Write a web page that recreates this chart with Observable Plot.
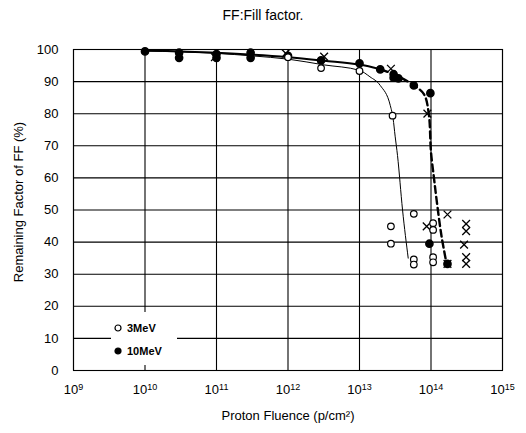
<!DOCTYPE html>
<html>
<head>
<meta charset="utf-8">
<script src="https://cdn.jsdelivr.net/npm/d3@7"></script>
<script src="https://cdn.jsdelivr.net/npm/@observablehq/plot@0.6"></script>
<style>
  body { margin: 0; background: white; font-family: "Liberation Sans", Arial, sans-serif; }
  #wrap { position: relative; width: 526px; }
  #title { height: 30px; line-height: 30px; text-align: center; font-size: 14px; color: #000; }
  #legend { position: absolute; left: 111px; top: 312px; width: 66px; height: 53px; background: white; }
</style>
</head>
<body>
<div id="wrap">
  <div id="title">FF:Fill factor.</div>
  <div id="chart"></div>
  <div id="legend"></div>
</div>
<script>
// ---- tick values ----
const xTicks = [1e9, 1e10, 1e11, 1e12, 1e13, 1e14, 1e15];
const yTicks = [0, 10, 20, 30, 40, 50, 60, 70, 80, 90, 100];

// ---- 3 MeV (open circles) ----
const mev3X = [1e12, 2.9e12, 1e13, 2.9e13, 5.75e13, 2.75e13, 2.75e13, 1.07e14, 1.07e14, 5.75e13, 5.75e13, 1.07e14, 1.07e14];
const mev3Y = [97.6, 94.2, 93.3, 79.4, 48.8, 44.9, 39.5, 45.9, 43.8, 34.6, 33.0, 35.3, 33.7];

// ---- 10 MeV (filled circles) ----
const mev10X = [1e10, 3e10, 3e10, 1e11, 1e11, 3e11, 3e11, 1e12, 2.9e12, 1e13, 1.95e13, 3e13, 3e13, 3.5e13, 5.75e13, 9.8e13, 9.5e13, 1.7e14];
const mev10Y = [99.4, 99.0, 97.4, 98.6, 97.4, 99.0, 97.4, 98.0, 96.6, 95.7, 93.8, 92.3, 91.2, 91.0, 88.8, 86.4, 39.5, 33.2];

// ---- unlabelled series (crosses) ----
const crossX = [9.5e10, 9.3e11, 3.2e12, 2.75e13, 8.9e13, 8.7e13, 1.7e14, 3.1e14, 3.1e14, 2.9e14, 3.1e14, 3.1e14, 1.7e14];
const crossY = [97.6, 98.8, 97.8, 94.0, 80.0, 44.9, 48.6, 45.7, 43.4, 39.2, 35.3, 33.2, 33.2];

// ---- fitted curves ----
const fit3X = [1e10, 1e11, 3.2e11, 1e12, 3.2e12, 1e13, 1.4e13, 1.95e13, 2.7e13, 2.95e13, 3.15e13, 3.4e13, 4e13, 4.8e13];
const fit3Y = [99.5, 98.8, 98.0, 97.0, 95.2, 93.5, 91.5, 88.8, 82.5, 78.5, 73.0, 67.0, 50.0, 35.0];

const fit10SolidX = [1e10, 1e11, 3.2e11, 1e12, 3.2e12, 1e13, 2e13];
const fit10SolidY = [99.7, 99.0, 98.4, 97.6, 96.5, 95.3, 93.8];

const fit10DashX = [2e13, 3.2e13, 5.6e13, 8e13, 9.3e13, 1e14, 1.1e14, 1.2e14, 1.4e14, 1.66e14];
const fit10DashY = [93.8, 92.0, 89.0, 86.0, 80.0, 68.0, 60.0, 53.0, 42.0, 33.0];

// ---- legend ----
const legendLabels = ["3MeV", "10MeV"];

const zip = (xs, ys) => xs.map((x, i) => ({x, y: ys[i]}));
const expOf = d => String(Math.round(Math.log10(d)));

const chart = Plot.plot({
  width: 526,
  height: 403,
  marginTop: 19,
  marginBottom: 63,
  marginLeft: 73,
  marginRight: 24,
  style: {fontFamily: "'Liberation Sans', Arial, sans-serif", fontSize: "13px", color: "black", background: "white"},
  x: {type: "log", domain: [1e9, 1e15]},
  y: {domain: [0, 100]},
  marks: [
    Plot.gridX(xTicks, {stroke: "black", strokeOpacity: 1, strokeWidth: 1.1}),
    Plot.gridY(yTicks, {stroke: "black", strokeOpacity: 1, strokeWidth: 1.1}),
    Plot.frame({stroke: "black", strokeWidth: 1.1}),
    Plot.axisX(xTicks, {tickFormat: d => "10|" + expOf(d), tickSize: 0, tickPadding: 14, label: null, fontSize: 13}),
    Plot.axisY(yTicks, {tickSize: 0, tickPadding: 15, label: null, fontSize: 13}),
    Plot.text(["Proton Fluence (p/cm²)"], {frameAnchor: "bottom", dy: 49, fontSize: 13}),
    Plot.text(["Remaining Factor of FF (%)"], {frameAnchor: "left", textAnchor: "middle", rotate: -90, dx: -55, dy: -8, fontSize: 13}),
    Plot.line(zip(fit3X, fit3Y), {x: "x", y: "y", stroke: "black", strokeWidth: 1, curve: "monotone-x"}),
    Plot.line(zip(fit10SolidX, fit10SolidY), {x: "x", y: "y", stroke: "black", strokeWidth: 2, curve: "monotone-x"}),
    Plot.line(zip(fit10DashX, fit10DashY), {x: "x", y: "y", stroke: "black", strokeWidth: 2.4, strokeDasharray: "7,4", curve: "catmull-rom"}),
    Plot.dot(zip(crossX, crossY), {x: "x", y: "y", symbol: "times", r: 3.6, stroke: "black", strokeWidth: 1.3}),
    Plot.dot(zip(mev10X, mev10Y), {x: "x", y: "y", r: 3.6, fill: "black", stroke: "black"}),
    Plot.dot(zip(mev3X, mev3Y), {x: "x", y: "y", r: 3.3, fill: "white", stroke: "black", strokeWidth: 1.2})
  ]
});
document.getElementById("chart").appendChild(chart);

// turn "10|n" tick labels into 10 with a raised exponent
d3.select(chart).selectAll("text").each(function () {
  const t = this.textContent;
  if (/^10\|\d+$/.test(t)) {
    const [base, e] = t.split("|");
    const sel = d3.select(this);
    sel.text(null);
    sel.append("tspan").text(base);
    sel.append("tspan").attr("dy", "-0.45em").attr("font-size", "9px").text(e);
  }
});

// legend box drawn as a small SVG overlay
const leg = d3.select("#legend").append("svg").attr("width", 66).attr("height", 53);
const items = leg.selectAll("g").data(legendLabels).join("g")
  .attr("transform", (d, i) => `translate(0, ${16 + i * 23})`);
items.append("circle").attr("cx", 7).attr("cy", 0).attr("r", 3)
  .attr("fill", (d, i) => i === 0 ? "white" : "black").attr("stroke", "black").attr("stroke-width", 1.2);
items.append("text").attr("x", 16).attr("y", 4).text(d => d)
  .attr("font-size", 11).attr("font-weight", "bold").attr("font-family", "'Liberation Sans', Arial, sans-serif");
</script>
</body>
</html>
